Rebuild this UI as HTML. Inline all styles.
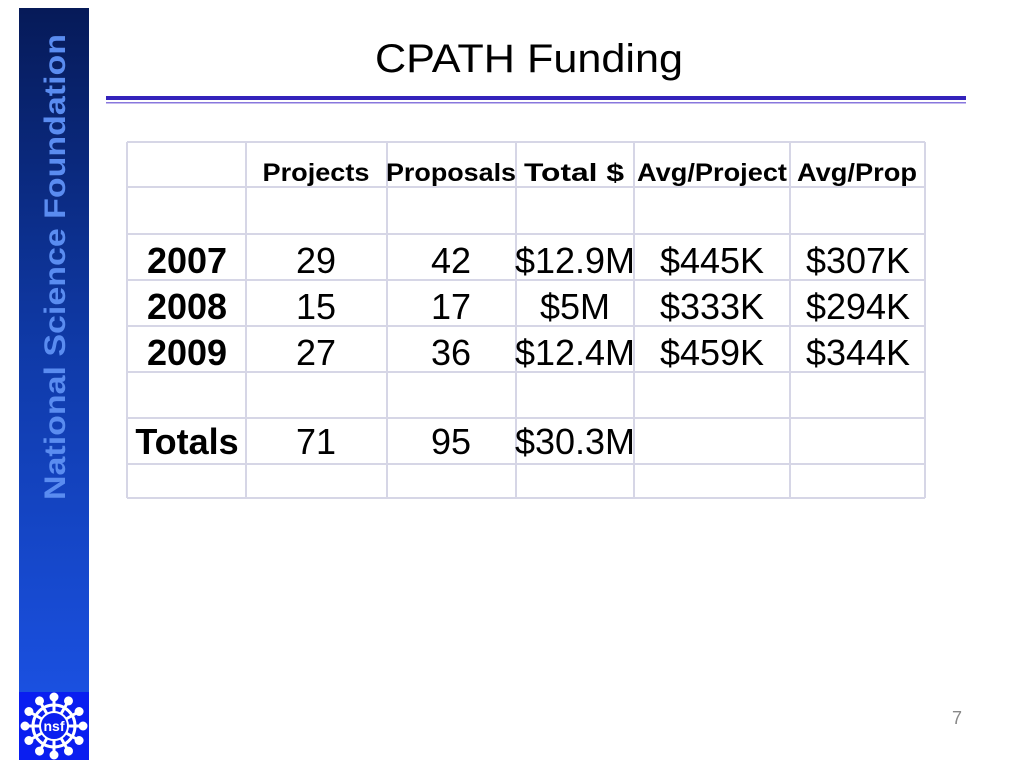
<!DOCTYPE html>
<html><head><meta charset="utf-8"><style>
html,body{margin:0;padding:0;background:#fff;width:1024px;height:768px;overflow:hidden}
svg{display:block;font-family:"Liberation Sans",Arial,sans-serif}
</style></head><body>
<svg id="s" width="1024" height="768" viewBox="0 0 1024 768">
<defs><linearGradient id="g" x1="0" y1="0" x2="0" y2="1">
<stop offset="0" stop-color="#061a58"/><stop offset="0.5" stop-color="#0f3aa8"/><stop offset="1" stop-color="#1a50e0"/></linearGradient></defs>
<rect x="19" y="8" width="70" height="684" fill="url(#g)"/>
<rect x="19" y="692" width="70" height="68" fill="#0a1ef0"/>
<g transform="translate(54,726)">
<g id="rays" stroke="#fff" stroke-width="3" fill="#fff"></g>
<circle r="14" fill="#0a1ef0" stroke="#fff" stroke-width="2"/>
<text x="0" y="5" text-anchor="middle" font-size="14" font-weight="bold" fill="#fff">nsf</text>
</g>
<text transform="translate(65,500) rotate(-90)" font-size="30" font-weight="bold" fill="#5a8cf0" textLength="466" lengthAdjust="spacingAndGlyphs">National Science Foundation</text>
<text x="375" y="72" font-size="40" fill="#000" textLength="308" lengthAdjust="spacingAndGlyphs">CPATH Funding</text>
<rect x="106" y="96" width="860" height="4" fill="#3322bb"/>
<rect x="106" y="102" width="860" height="1.5" fill="#8877dd"/>
<g id="grid"></g>
<g id="cells"></g>
<text x="952" y="724" font-size="18" fill="#888">7</text>
</svg>
<script>
var headers=["Projects","Proposals","Total $","Avg/Project","Avg/Prop"];
var years=["2007","2008","2009"];
var projects=["29","15","27"];
var proposals=["42","17","36"];
var totals=["$12.9M","$5M","$12.4M"];
var avgProject=["$445K","$333K","$459K"];
var avgProp=["$307K","$294K","$344K"];
var sumRow=["Totals","71","95","$30.3M","",""];
var NS="http://www.w3.org/2000/svg";
var colX=[127,246,387,516,634,790,925];
var rowY=[142,187,234,280,326,372,418,464,498];
var grid=document.getElementById('grid');
function ln(x1,y1,x2,y2){var l=document.createElementNS(NS,'line');l.setAttribute('x1',x1);l.setAttribute('y1',y1);l.setAttribute('x2',x2);l.setAttribute('y2',y2);l.setAttribute('stroke','#d6d6e6');l.setAttribute('stroke-width','2');


grid.appendChild(l);}
colX.forEach(function(x){ln(x,rowY[0],x,rowY[8]);});
rowY.forEach(function(y){ln(colX[0],y,colX[6],y);});
var cells=document.getElementById('cells');
function tx(s,x,y,size,bold,name,len){if(!s)return;var t=document.createElementNS(NS,'text');t.textContent=s;t.setAttribute('x',x);t.setAttribute('y',y);t.setAttribute('font-size',size);t.setAttribute('text-anchor','middle');if(bold)t.setAttribute('font-weight','bold');if(len){t.setAttribute('textLength',len);t.setAttribute('lengthAdjust','spacingAndGlyphs');}


cells.appendChild(t);}
var hc=[316,451,574,712,857],hw=[107,130,100,150,120];
headers.forEach(function(h,i){tx(h,hc[i],181,25,true,'column-header',hw[i]);});
var cc=[187,316,451,575,712,858];
function row(vals,y){vals.forEach(function(v,i){tx(v,cc[i],y,36,i===0,i===0?'row-label':'table-cell');});}
for(var r=0;r<years.length;r++){row([years[r],projects[r],proposals[r],totals[r],avgProject[r],avgProp[r]],273+46*r);}
row(sumRow,454);
var rays=document.getElementById('rays');
for(var k=0;k<12;k++){var a=k*Math.PI/6;var l=document.createElementNS(NS,'line');l.setAttribute('x1',0);l.setAttribute('y1',0);l.setAttribute('x2',(28*Math.cos(a)).toFixed(1));l.setAttribute('y2',(28*Math.sin(a)).toFixed(1));


rays.appendChild(l);
var c=document.createElementNS(NS,'circle');c.setAttribute('cx',(29*Math.cos(a)).toFixed(1));c.setAttribute('cy',(29*Math.sin(a)).toFixed(1));c.setAttribute('r','3');


rays.appendChild(c);}
var ring=document.createElementNS(NS,'circle');ring.setAttribute('r','21');ring.setAttribute('fill','none');


rays.appendChild(ring);
</script>
</body></html>
